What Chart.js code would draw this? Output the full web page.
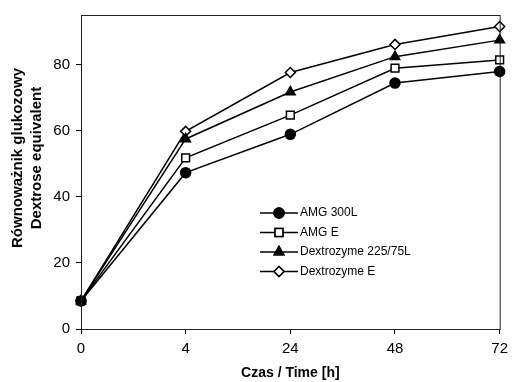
<!DOCTYPE html>
<html>
<head>
<meta charset="utf-8">
<script src="https://cdn.jsdelivr.net/npm/chart.js@4/dist/chart.umd.min.js"></script>
<style>
  html, body { margin: 0; padding: 0; background: #fff; }
  #wrap { width: 514px; height: 382px; }
</style>
</head>
<body>
<div id="wrap"><canvas id="myChart" width="514" height="382"></canvas></div>
<script>
// data
var hours = ["0", "4", "24", "48", "72"];
var amg300L = [8.5, 47.3, 58.9, 74.4, 77.9];
var amgE = [8.5, 51.8, 64.7, 78.9, 81.4];
var dextrozyme225 = [8.5, 57.5, 71.7, 82.4, 87.4];
var dextrozymeE = [8.5, 59.8, 77.6, 86.1, 91.5];
var yTicks = [0, 20, 40, 60, 80];
var yTitle = ['Równoważnik glukozowy', 'Dextrose equivalent'];

var FONT = "'Liberation Sans', Arial, sans-serif";

// frame round the plot area, y title (sits a bit above centre) and legend inside the plot
var framePlugin = {
  id: 'frame',
  afterDraw: function(chart) {
    var c = chart.ctx, a = chart.chartArea;
    c.save();
    c.strokeStyle = '#222';
    c.lineWidth = 1;
    c.strokeRect(a.left + 0.5, a.top + 0.5, a.right - a.left, a.bottom - a.top);

    // y title
    c.save();
    c.translate(18, 158);
    c.rotate(-Math.PI / 2);
    c.font = 'bold 15px ' + FONT;
    c.fillStyle = '#000';
    c.textAlign = 'center';
    c.textBaseline = 'middle';
    yTitle.forEach(function(t, i) { c.fillText(t, 0, i * 19); });
    c.restore();

    // legend
    var x0 = 260, y0 = 213, gap = 19.5;
    c.font = '12px ' + FONT;
    c.textBaseline = 'middle';
    chart.data.datasets.forEach(function(ds, i) {
      var y = y0 + i * gap;
      c.strokeStyle = '#000';
      c.lineWidth = 1.5;
      c.beginPath();
      c.moveTo(x0, y);
      c.lineTo(x0 + 38, y);
      c.stroke();
      Chart.helpers.drawPoint(c, {
        pointStyle: ds.pointStyle, radius: ds.pointRadius, borderWidth: 1.5
      }, x0 + 19, y);
      c.fillStyle = ds.pointBackgroundColor;
      c.strokeStyle = '#000';
      c.fill();
      c.stroke();
      c.fillStyle = '#000';
      c.fillText(ds.label, x0 + 40, y);
    });
    c.restore();
  }
};

function series(label, data, style, fill, r) {
  return {
    label: label,
    data: data,
    borderColor: '#000',
    borderWidth: 1.5,
    pointStyle: style,
    pointRadius: r,
    pointBackgroundColor: fill,
    pointBorderColor: '#000',
    pointBorderWidth: 1.5,
    tension: 0
  };
}

var ctx = document.getElementById("myChart");
var myChart = new Chart(ctx, {
  type: 'line',
  data: {
    labels: hours,
    datasets: [
      series('AMG 300L', amg300L, 'circle', '#000', 5),
      series('AMG E', amgE, 'rect', '#fff', 5.5),
      series('Dextrozyme 225/75L', dextrozyme225, 'triangle', '#000', 5.5),
      series('Dextrozyme E', dextrozymeE, 'rectRot', '#fff', 5)
    ]
  },
  options: {
    responsive: false,
    animation: false,
    layout: { padding: { top: 14, right: 11, left: 0, bottom: 0 } },
    plugins: {
      legend: { display: false },
      tooltip: { enabled: false }
    },
    scales: {
      x: {
        offset: false,
        grid: { drawOnChartArea: false, color: '#000', tickLength: 5, tickWidth: 1 },
        border: { color: '#000' },
        ticks: { color: '#000', font: { size: 15, family: FONT }, padding: 6, maxRotation: 0 },
        title: { display: true, text: 'Czas / Time [h]', color: '#000',
                 font: { size: 14, weight: 'bold', family: FONT, lineHeight: 1.2 }, padding: { top: 0, bottom: 0 } },
        afterFit: function(s) { s.height = 53; }
      },
      y: {
        min: 0,
        max: 95,
        afterBuildTicks: function(s) {
          s.ticks = yTicks.map(function(v) { return { value: v }; });
        },
        grid: { drawOnChartArea: false, color: '#000', tickLength: 5, tickWidth: 1 },
        border: { color: '#000' },
        ticks: { color: '#000', font: { size: 15, family: FONT }, padding: 6 },
        title: { display: false },
        afterFit: function(s) { s.width = 81; }
      }
    }
  },
  plugins: [framePlugin]
});
</script>
</body>
</html>
